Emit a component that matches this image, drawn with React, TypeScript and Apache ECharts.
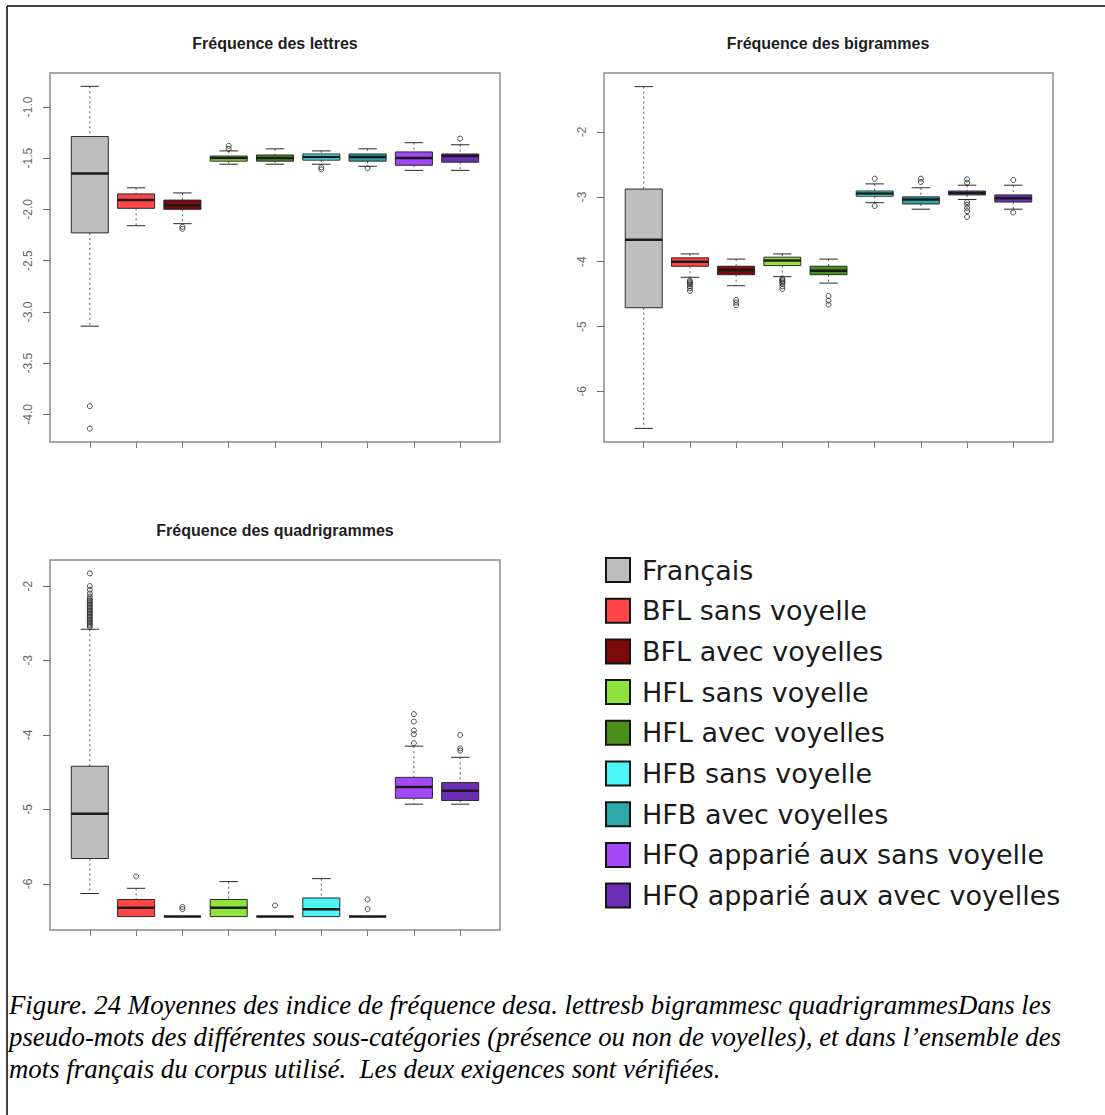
import React, { useEffect, useRef } from "react";
import * as echarts from "echarts";

// ---------- DATA ----------
const categories = [
  "Français",
  "BFL sans voyelle",
  "BFL avec voyelles",
  "HFL sans voyelle",
  "HFL avec voyelles",
  "HFB sans voyelle",
  "HFB avec voyelles",
  "HFQ apparié aux sans voyelle",
  "HFQ apparié aux avec voyelles",
];

const boxColors = [
  "#BEBEBE",
  "#FF4545",
  "#7D0A0A",
  "#8FE33C",
  "#4B8F1B",
  "#4DF5F5",
  "#2FA7A9",
  "#A348F7",
  "#6A2FB4",
];

const panelTitles = [
  "Fréquence des lettres",
  "Fréquence des bigrammes",
  "Fréquence des quadrigrammes",
];

// [lower whisker, Q1, median, Q3, upper whisker]
const lettresBoxes = [
  [-3.14, -2.23, -1.65, -1.29, -0.8],
  [-2.16, -1.99, -1.91, -1.85, -1.79],
  [-2.14, -2.0, -1.96, -1.91, -1.84],
  [-1.56, -1.53, -1.5, -1.48, -1.43],
  [-1.56, -1.53, -1.5, -1.47, -1.41],
  [-1.56, -1.52, -1.49, -1.46, -1.43],
  [-1.58, -1.53, -1.49, -1.46, -1.41],
  [-1.62, -1.57, -1.5, -1.44, -1.35],
  [-1.62, -1.54, -1.48, -1.46, -1.37],
];
const lettresOutliers = [
  [-3.92, -4.14],
  [],
  [-2.17, -2.19],
  [-1.38, -1.41],
  [],
  [-1.59, -1.61],
  [-1.6],
  [],
  [-1.31],
];
const lettresRange = [-4.27, -0.67];
const lettresTicks = [-4.0, -3.5, -3.0, -2.5, -2.0, -1.5, -1.0];
const lettresTickDecimals = 1;

const bigrammesBoxes = [
  [-6.57, -4.71, -3.66, -2.88, -1.3],
  [-4.24, -4.07, -4.0, -3.94, -3.88],
  [-4.37, -4.2, -4.13, -4.07, -3.96],
  [-4.23, -4.06, -3.98, -3.93, -3.88],
  [-4.33, -4.2, -4.14, -4.07, -3.96],
  [-3.09, -2.99, -2.95, -2.91, -2.8],
  [-3.19, -3.11, -3.04, -3.0, -2.86],
  [-3.04, -2.97, -2.94, -2.91, -2.82],
  [-3.19, -3.08, -3.02, -2.97, -2.82],
];
const bigrammesOutliers = [
  [],
  [-4.29, -4.31, -4.33, -4.35, -4.38, -4.41, -4.45],
  [-4.59, -4.63, -4.67],
  [-4.26, -4.28, -4.3, -4.32, -4.34, -4.38, -4.42],
  [-4.53, -4.6, -4.66],
  [-2.72, -3.14],
  [-2.72, -2.77],
  [-2.73, -2.78, -3.08, -3.12, -3.17, -3.22, -3.31],
  [-2.74, -3.24],
];
const bigrammesRange = [-6.78, -1.09];
const bigrammesTicks = [-6, -5, -4, -3, -2];
const bigrammesTickDecimals = 0;

const quadriBoxes = [
  [-6.13, -5.66, -5.06, -4.42, -2.58],
  [-6.44, -6.44, -6.32, -6.21, -6.06],
  [-6.44, -6.44, -6.44, -6.44, -6.44],
  [-6.44, -6.44, -6.32, -6.21, -5.97],
  [-6.44, -6.44, -6.44, -6.44, -6.44],
  [-6.44, -6.44, -6.34, -6.19, -5.93],
  [-6.44, -6.44, -6.44, -6.44, -6.44],
  [-4.93, -4.85, -4.7, -4.57, -4.15],
  [-4.93, -4.88, -4.75, -4.64, -4.3],
];
const quadriOutliers = [
  [
    -1.83, -2.0, -2.05, -2.1, -2.14, -2.17, -2.19, -2.21, -2.23, -2.25, -2.27, -2.29,
    -2.31, -2.33, -2.35, -2.37, -2.39, -2.41, -2.43, -2.45, -2.47, -2.49, -2.51, -2.53, -2.55,
  ],
  [-5.9],
  [-6.31, -6.34],
  [],
  [-6.29],
  [],
  [-6.21, -6.34],
  [-3.72, -3.82, -3.94, -3.99, -4.11],
  [-4.0, -4.18, -4.21],
];
const quadriRange = [-6.62, -1.65];
const quadriTicks = [-6, -5, -4, -3, -2];
const quadriTickDecimals = 0;

const captionLines = [
  "Figure. 24 Moyennes des indice de fréquence desa. lettresb bigrammesc quadrigrammesDans les",
  "pseudo-mots des différentes sous-catégories (présence ou non de voyelles), et dans l’ensemble des",
  "mots français du corpus utilisé.  Les deux exigences sont vérifiées.",
];

// ---------- LAYOUT ----------
const W = 1105;
const H = 1115;

const panelLayouts = [
  { left: 50, top: 73, width: 450, height: 369, titleX: 275, titleY: 43 },
  { left: 604, top: 73, width: 449, height: 369, titleX: 828, titleY: 43 },
  { left: 50, top: 560, width: 450, height: 370, titleX: 275, titleY: 530 },
];

const panels = [
  { boxes: lettresBoxes, outliers: lettresOutliers, range: lettresRange, ticks: lettresTicks, dec: lettresTickDecimals },
  { boxes: bigrammesBoxes, outliers: bigrammesOutliers, range: bigrammesRange, ticks: bigrammesTicks, dec: bigrammesTickDecimals },
  { boxes: quadriBoxes, outliers: quadriOutliers, range: quadriRange, ticks: quadriTicks, dec: quadriTickDecimals },
];

const xTickValues = categories.map((_, i) => i + 1);

function renderBox(params: any, api: any) {
  const x = api.value(0);
  const low = api.coord([x, api.value(1)]);
  const q1 = api.coord([x, api.value(2)]);
  const med = api.coord([x, api.value(3)]);
  const q3 = api.coord([x, api.value(4)]);
  const high = api.coord([x, api.value(5)]);
  const unit = api.size([1, 0])[0];
  const bw = unit * 0.8;
  const sw = unit * 0.4;
  const cx = low[0];
  const color = boxColors[params.dataIndex];
  const stroke = "#2a2a2a";
  const children: any[] = [];
  if (high[1] < q3[1]) {
    children.push({
      type: "line",
      shape: { x1: cx, y1: high[1], x2: cx, y2: q3[1] },
      style: { stroke: "#555", lineWidth: 1, lineDash: [2, 3] },
    });
    children.push({
      type: "line",
      shape: { x1: cx - sw / 2, y1: high[1], x2: cx + sw / 2, y2: high[1] },
      style: { stroke, lineWidth: 1 },
    });
  }
  if (low[1] > q1[1]) {
    children.push({
      type: "line",
      shape: { x1: cx, y1: q1[1], x2: cx, y2: low[1] },
      style: { stroke: "#555", lineWidth: 1, lineDash: [2, 3] },
    });
    children.push({
      type: "line",
      shape: { x1: cx - sw / 2, y1: low[1], x2: cx + sw / 2, y2: low[1] },
      style: { stroke, lineWidth: 1 },
    });
  }
  children.push({
    type: "rect",
    shape: { x: cx - bw / 2, y: q3[1], width: bw, height: Math.max(q1[1] - q3[1], 0) },
    style: { fill: color, stroke, lineWidth: 1 },
  });
  children.push({
    type: "line",
    shape: { x1: cx - bw / 2, y1: med[1], x2: cx + bw / 2, y2: med[1] },
    style: { stroke: "#1a1a1a", lineWidth: 2.5 },
  });
  return { type: "group", children };
}

function buildOption() {
  const grid: any[] = [];
  const xAxis: any[] = [];
  const yAxis: any[] = [];
  const series: any[] = [];
  const graphic: any[] = [];

  panels.forEach((p, k) => {
    const L = panelLayouts[k];
    grid.push({
      left: L.left,
      top: L.top,
      width: L.width,
      height: L.height,
      show: true,
      borderColor: "#8c8c8c",
      borderWidth: 1.5,
      backgroundColor: "transparent",
    });
    xAxis.push({
      type: "value",
      gridIndex: k,
      min: 0.14,
      max: 9.86,
      axisLine: { show: false, onZero: false },
      splitLine: { show: false },
      axisLabel: { show: false, customValues: xTickValues },
      axisTick: { show: true, length: 6, customValues: xTickValues, lineStyle: { color: "#777", width: 1 } },
    });
    yAxis.push({
      type: "value",
      gridIndex: k,
      min: p.range[0],
      max: p.range[1],
      axisLine: { show: false, onZero: false },
      splitLine: { show: false },
      axisTick: { show: true, length: 7, customValues: p.ticks, lineStyle: { color: "#666", width: 1 } },
      axisLabel: {
        show: true,
        customValues: p.ticks,
        rotate: 90,
        margin: 16,
        color: "#666",
        fontSize: 12,
        fontFamily: "Liberation Sans",
        formatter: (v: number) => v.toFixed(p.dec),
      },
    });
    series.push({
      type: "custom",
      xAxisIndex: k,
      yAxisIndex: k,
      clip: false,
      renderItem: renderBox,
      encode: { x: 0, y: [1, 2, 3, 4, 5] },
      data: p.boxes.map((b, i) => [i + 1, ...b]),
      z: 2,
    });
    series.push({
      type: "scatter",
      xAxisIndex: k,
      yAxisIndex: k,
      symbol: "circle",
      symbolSize: 5,
      itemStyle: { color: "rgba(0,0,0,0)", borderColor: "#222", borderWidth: 1 },
      data: p.outliers.flatMap((arr, i) => arr.map((v) => [i + 1, v])),
      z: 3,
    });
    graphic.push({
      type: "text",
      x: L.titleX,
      y: L.titleY,
      style: {
        text: panelTitles[k],
        font: 'bold 16px "Liberation Sans"',
        fill: "#1e1e1e",
        textAlign: "center",
        textVerticalAlign: "middle",
      },
    });
  });

  // legend
  categories.forEach((name, i) => {
    const cy = 570 + i * 40.7;
    graphic.push({
      type: "rect",
      shape: { x: 606, y: cy - 12, width: 24, height: 24 },
      style: { fill: boxColors[i], stroke: "#151515", lineWidth: 2 },
    });
    graphic.push({
      type: "text",
      x: 642,
      y: cy,
      style: {
        text: name,
        font: '27px "DejaVu Sans"',
        fill: "#1a1a1a",
        textAlign: "left",
        textVerticalAlign: "middle",
      },
    });
  });

  // caption
  captionLines.forEach((line, i) => {
    graphic.push({
      type: "text",
      x: 9,
      y: 1005 + i * 32,
      style: {
        text: line,
        font: 'italic 26.8px "Liberation Serif"',
        fill: "#000",
        textAlign: "left",
        textVerticalAlign: "middle",
      },
    });
  });

  // outer frame
  graphic.push({
    type: "line",
    shape: { x1: 7, y1: 6, x2: W, y2: 6 },
    style: { stroke: "#000", lineWidth: 1.5 },
  });
  graphic.push({
    type: "line",
    shape: { x1: 7, y1: 6, x2: 7, y2: H },
    style: { stroke: "#000", lineWidth: 1.5 },
  });

  return {
    animation: false,
    backgroundColor: "#fff",
    grid,
    xAxis,
    yAxis,
    series,
    graphic,
  };
}

export default function App() {
  const ref = useRef<HTMLDivElement>(null);
  useEffect(() => {
    if (!ref.current) return;
    const chart = echarts.init(ref.current, null, { renderer: "svg" });
    chart.setOption(buildOption() as any);
    return () => chart.dispose();
  }, []);
  return (
    <div
      ref={ref}
      style={{ position: "absolute", left: 0, top: 0, width: W, height: H, background: "#fff" }}
    />
  );
}
